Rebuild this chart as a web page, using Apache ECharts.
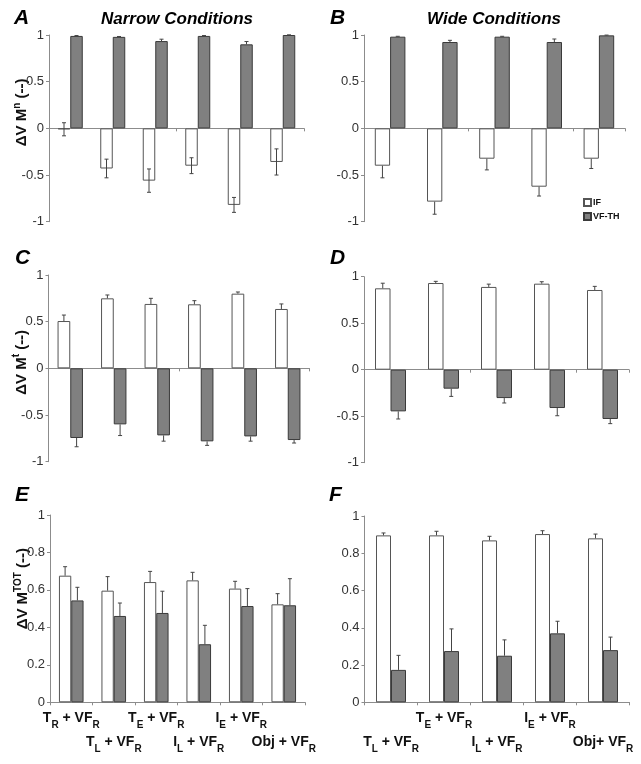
<!DOCTYPE html>
<html><head><meta charset="utf-8">
<script src="https://cdn.jsdelivr.net/npm/echarts@6/dist/echarts.min.js"></script>
<style>html,body{margin:0;padding:0;background:#fff}#c{width:641px;height:764px}</style>
</head><body><div id="c"></div>
<script>
// ---- categories ----
const narrowCats = ['T_R + VF_R', 'T_L + VF_R', 'T_E + VF_R', 'I_L + VF_R', 'I_E + VF_R', 'Obj + VF_R'];
const wideCats = ['T_L + VF_R', 'T_E + VF_R', 'I_L + VF_R', 'I_E + VF_R', 'Obj+ VF_R'];
const seriesNames = ['IF', 'VF-TH'];
const panelLetters = ['A', 'B', 'C', 'D', 'E', 'F'];

// ---- values (mean, error) ----
const aIF = [-0.01, -0.43, -0.56, -0.40, -0.82, -0.36];
const aIFerr = [0.07, 0.10, 0.125, 0.085, 0.08, 0.14];
const aVF = [0.99, 0.98, 0.935, 0.99, 0.90, 1.0];
const aVFerr = [0.004, 0.004, 0.02, 0.004, 0.03, 0.002];

const bIF = [-0.40, -0.785, -0.325, -0.625, -0.325];
const bIFerr = [0.13, 0.135, 0.12, 0.10, 0.105];
const bVF = [0.982, 0.925, 0.982, 0.925, 0.996];
const bVFerr = [0.004, 0.018, 0.004, 0.032, 0.003];

const cIF = [0.507, 0.75, 0.69, 0.686, 0.80, 0.636];
const cIFerr = [0.064, 0.036, 0.06, 0.039, 0.018, 0.054];
const cVF = [-0.746, -0.60, -0.718, -0.782, -0.729, -0.768];
const cVFerr = [0.094, 0.12, 0.062, 0.043, 0.051, 0.032];

const dIF = [0.875, 0.932, 0.89, 0.925, 0.857];
const dIFerr = [0.055, 0.018, 0.03, 0.021, 0.039];
const dVF = [-0.448, -0.204, -0.305, -0.412, -0.53];
const dVFerr = [0.082, 0.083, 0.053, 0.083, 0.05];

const eIF = [0.676, 0.596, 0.642, 0.651, 0.607, 0.523];
const eIFerr = [0.048, 0.075, 0.057, 0.043, 0.039, 0.057];
const eVF = [0.544, 0.461, 0.477, 0.31, 0.514, 0.518];
const eVFerr = [0.07, 0.069, 0.116, 0.101, 0.093, 0.142];

const fIF = [0.896, 0.896, 0.869, 0.903, 0.88];
const fIFerr = [0.013, 0.022, 0.022, 0.018, 0.023];
const fVF = [0.174, 0.275, 0.25, 0.37, 0.28];
const fVFerr = [0.078, 0.119, 0.085, 0.065, 0.07];

// ---- layout / style ----
const panels = [
  {cats: narrowCats, IF: aIF, IFe: aIFerr, VF: aVF, VFe: aVFerr, left: 49, top: 35, width: 255, height: 186.7, bw: 12.5, min: -1, max: 1, step: 0.5, sup: 'n', bothIF: true, labels: false, firstRow: 0},
  {cats: wideCats, IF: bIF, IFe: bIFerr, VF: bVF, VFe: bVFerr, left: 364, top: 35, width: 261, height: 186.7, bw: 15.3, min: -1, max: 1, step: 0.5, sup: null, bothIF: false, labels: false, firstRow: 1},
  {cats: narrowCats, IF: cIF, IFe: cIFerr, VF: cVF, VFe: cVFerr, left: 48.5, top: 275, width: 261, height: 186.7, bw: 12.7, min: -1, max: 1, step: 0.5, sup: 't', bothIF: false, labels: false, firstRow: 0},
  {cats: wideCats, IF: dIF, IFe: dIFerr, VF: dVF, VFe: dVFerr, left: 364, top: 276.7, width: 265, height: 186, bw: 15.5, min: -1, max: 1, step: 0.5, sup: null, bothIF: false, labels: false, firstRow: 1},
  {cats: narrowCats, IF: eIF, IFe: eIFerr, VF: eVF, VFe: eVFerr, left: 50, top: 515, width: 255, height: 187.3, bw: 12.3, min: 0, max: 1, step: 0.2, sup: 'TOT', bothIF: false, labels: true, firstRow: 0},
  {cats: wideCats, IF: fIF, IFe: fIFerr, VF: fVF, VFe: fVFerr, left: 364.5, top: 516, width: 265, height: 186.3, bw: 15, min: 0, max: 1, step: 0.2, sup: null, bothIF: false, labels: true, firstRow: 1}
];

const FONT = 'Liberation Sans, Arial, sans-serif';
const axisGray = '#8c8c8c';

function catRich(s) {
  const parts = s.split(/_([A-Z])/);
  let out = '';
  parts.forEach((p, i) => {
    if (p === '') return;
    out += (i % 2 === 0) ? '{m|' + p + '}' : '{s|' + p + '}';
  });
  return out;
}

const grid = [], xAxis = [], yAxis = [], series = [];

panels.forEach((p, k) => {
  grid.push({left: p.left, top: p.top, width: p.width, height: p.height});
  xAxis.push({
    type: 'category', gridIndex: k, data: p.cats, boundaryGap: true,
    axisLine: {onZero: true, lineStyle: {color: axisGray, width: 1}},
    axisTick: {show: true, length: 3, lineStyle: {color: axisGray}},
    axisLabel: p.labels ? {
      show: true, interval: 0, margin: 4, lineHeight: 24, hideOverlap: false,
      formatter: (v, i) => ((i + p.firstRow) % 2 === 0 ? '' : '\n') + catRich(v),
      rich: {
        m: {fontFamily: FONT, fontWeight: 'bold', fontSize: 14, color: '#111', lineHeight: 24},
        s: {fontFamily: FONT, fontWeight: 'bold', fontSize: 10, color: '#111', lineHeight: 17, verticalAlign: 'bottom'}
      }
    } : {show: false},
    splitLine: {show: false}
  });
  const y = {
    type: 'value', gridIndex: k, min: p.min, max: p.max, interval: p.step,
    axisLine: {show: true, lineStyle: {color: axisGray, width: 1}},
    axisTick: {show: true, length: 3, lineStyle: {color: axisGray}},
    axisLabel: {fontFamily: FONT, fontSize: 13, color: '#333', margin: 5},
    splitLine: {show: false}
  };
  if (p.sup) {
    y.name = '{m|ΔV M}{u|' + p.sup + '}{m| (--)}';
    y.nameLocation = 'middle';
    y.nameGap = 17;
    y.nameMoveOverlap = false;
    y.nameTextStyle = {
      padding: [0, 0, 0, p.sup === 'TOT' ? 40 : (p.sup === 'n' ? 32 : 12)],
      rich: {
        m: {fontFamily: FONT, fontWeight: 'bold', fontSize: 15, color: '#111', lineHeight: 20},
        u: {fontFamily: FONT, fontWeight: 'bold', fontSize: 10, color: '#111', lineHeight: 11, verticalAlign: 'top'}
      }
    };
  }
  yAxis.push(y);

  series.push({
    name: seriesNames[0], type: 'bar', xAxisIndex: k, yAxisIndex: k, data: p.IF,
    barWidth: p.bw, barGap: '0%',
    itemStyle: {color: '#ffffff', borderColor: '#555', borderWidth: 1},
    emphasis: {disabled: true}, z: 2
  });
  series.push({
    name: seriesNames[1], type: 'bar', xAxisIndex: k, yAxisIndex: k, data: p.VF,
    barWidth: p.bw, barGap: '0%',
    itemStyle: {color: '#808080', borderColor: '#3a3a3a', borderWidth: 1},
    emphasis: {disabled: true}, z: 2
  });

  const mkErr = (vals, errs, offSign, both) => ({
    type: 'custom', xAxisIndex: k, yAxisIndex: k, z: 5, silent: true,
    data: vals.map((v, i) => [i, v, errs[i]]),
    encode: {x: 0, y: 1},
    renderItem: (params, api) => {
      const ci = api.value(0), v = api.value(1), e = api.value(2);
      const sgn = v >= 0 ? 1 : -1;
      const x = api.coord([ci, 0])[0] + offSign * p.bw / 2;
      const yOut = api.coord([ci, v + sgn * e])[1];
      const yIn = api.coord([ci, both ? v - sgn * e : v])[1];
      const st = {stroke: '#444', lineWidth: 1};
      const ch = [
        {type: 'line', shape: {x1: x, y1: yIn, x2: x, y2: yOut}, style: st},
        {type: 'line', shape: {x1: x - 2, y1: yOut, x2: x + 2, y2: yOut}, style: st}
      ];
      if (both) ch.push({type: 'line', shape: {x1: x - 2, y1: yIn, x2: x + 2, y2: yIn}, style: st});
      return {type: 'group', children: ch};
    }
  });
  series.push(mkErr(p.IF, p.IFe, -1, p.bothIF));
  series.push(mkErr(p.VF, p.VFe, 1, false));
});

const titleStyle = {fontFamily: FONT, fontWeight: 'bold', fontStyle: 'italic', fill: '#000'};
const letterPos = [[14, 18], [330, 18], [15, 258], [330, 258], [15, 495], [329, 495]];
const graphic = letterPos.map((pos, i) => ({
  type: 'text', x: pos[0], y: pos[1],
  style: Object.assign({text: panelLetters[i], fontSize: 21, textVerticalAlign: 'middle'}, titleStyle)
}));
graphic.push({type: 'text', x: 177, y: 19, style: Object.assign({text: 'Narrow Conditions', fontSize: 17, textAlign: 'center', textVerticalAlign: 'middle'}, titleStyle)});
graphic.push({type: 'text', x: 494, y: 19, style: Object.assign({text: 'Wide Conditions', fontSize: 17, textAlign: 'center', textVerticalAlign: 'middle'}, titleStyle)});

const chart = echarts.init(document.getElementById('c'), null, {renderer: 'canvas'});
chart.setOption({
  animation: false,
  backgroundColor: '#fff',
  grid, xAxis, yAxis, series, graphic,
  legend: {
    data: seriesNames, orient: 'vertical', left: 583, top: 198,
    itemWidth: 7, itemHeight: 7, itemGap: 5, padding: 0, icon: 'rect',
    textStyle: {fontFamily: FONT, fontWeight: 'bold', fontSize: 9, color: '#111', padding: [0, 0, 0, -3]},
    selectedMode: false
  }
});
</script></body></html>
